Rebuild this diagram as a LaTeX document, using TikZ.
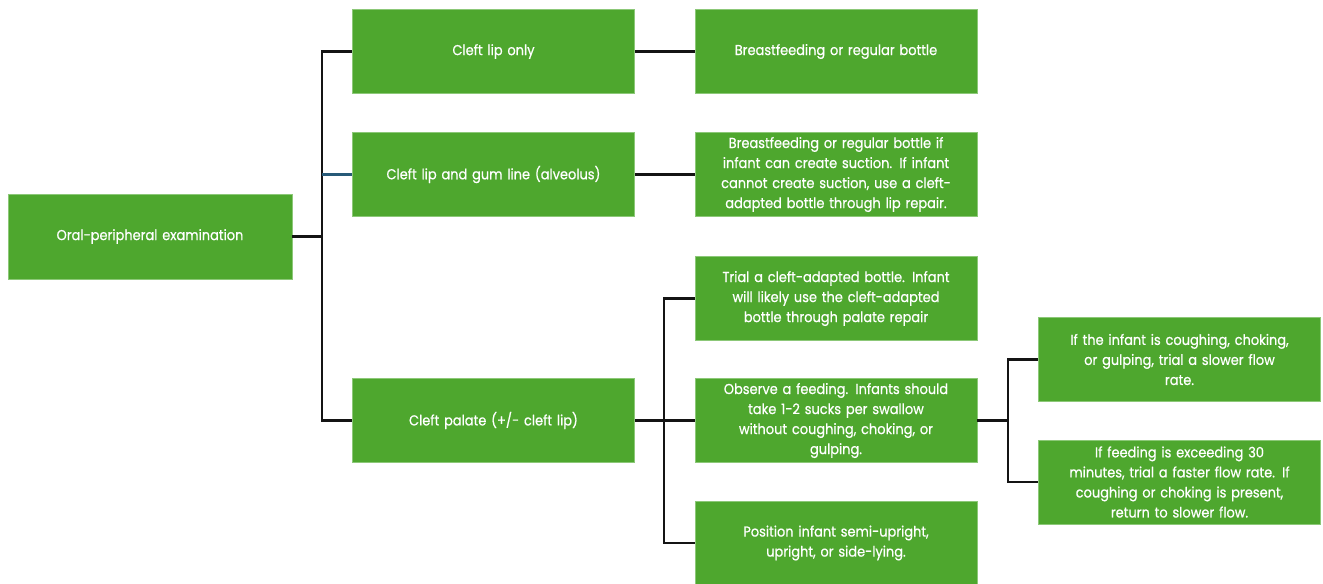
\documentclass[tikz,border=0pt]{standalone}
\usepackage{fontspec}
\setmainfont[FakeStretch=0.9, FakeBold=0.6]{Poppins}
\definecolor{boxgreen}{RGB}{78,167,46}
\definecolor{boxedge}{RGB}{140,200,120}
\definecolor{linedark}{RGB}{20,20,20}
\definecolor{lineblue}{RGB}{40,90,120}
\begin{document}
\begin{tikzpicture}[x=0.02cm, y=-0.02cm,
	box/.style={draw=boxedge, line width=0.4pt, fill=boxgreen, text=white, inner sep=0pt,
		text width=5.64cm, minimum height=1.68cm, align=center,
		font=\fontsize{8.2pt}{11.4pt}\selectfont},
	link/.style={draw=linedark, line width=1.5pt}]
	\useasboundingbox (0,0) rectangle (1323,583);
	\node[box, text width=5.68cm, minimum height=1.7cm] (exam) at (150,236.5) {Oral-peripheral examination};
	\node[box] (lip) at (493.5,51.5) {Cleft lip only};
	\node[box] (gum) at (493.5,174.5) {Cleft lip and gum line (alveolus)};
	\node[box] (palate) at (493.5,420.5) {Cleft palate (+/- cleft lip)};
	\node[box] (lipfeed) at (836,51.5) {Breastfeeding or regular bottle};
	\node[box] (gumfeed) at (836,174.5) {Breastfeeding or regular bottle if\\infant can create suction. If infant\\cannot create suction, use a cleft-\\adapted bottle through lip repair.};
	\node[box] (trial) at (836,298.5) {Trial a cleft-adapted bottle. Infant\\will likely use the cleft-adapted\\bottle through palate repair};
	\node[box] (observe) at (836,420.5) {Observe a feeding. Infants should\\take 1-2 sucks per swallow\\without coughing, choking, or\\gulping.};
	\node[box] (position) at (836,543) {Position infant semi-upright,\\upright, or side-lying.};
	\node[box] (slower) at (1179.5,359.5) {If the infant is coughing, choking,\\or gulping, trial a slower flow\\rate.};
	\node[box] (faster) at (1179.5,482) {If feeding is exceeding 30\\minutes, trial a faster flow rate. If\\coughing or choking is present,\\return to slower flow.};
	% junctions
	\coordinate (j1) at (322,236.5);
	\coordinate (j2) at (664,420.5);
	\coordinate (j3) at (1008,420.5);
	\draw[link] (exam.east) -- (j1);
	\draw[link] (j1) |- (lip.west);
	\draw[link] (j1) |- (palate.west);
	\draw[link, draw=lineblue] (gum.west -| j1) -- (gum.west);
	\draw[link] (lip.east) -- (lipfeed.west);
	\draw[link] (gum.east) -- (gumfeed.west);
	\draw[link] (palate.east) -- (observe.west);
	\draw[link] (j2) |- (trial.west);
	\draw[link] (j2) |- (position.west);
	\draw[link] (observe.east) -- (j3);
	\draw[link] (j3) |- (slower.west);
	\draw[link] (j3) |- (faster.west);
\end{tikzpicture}
\end{document}
